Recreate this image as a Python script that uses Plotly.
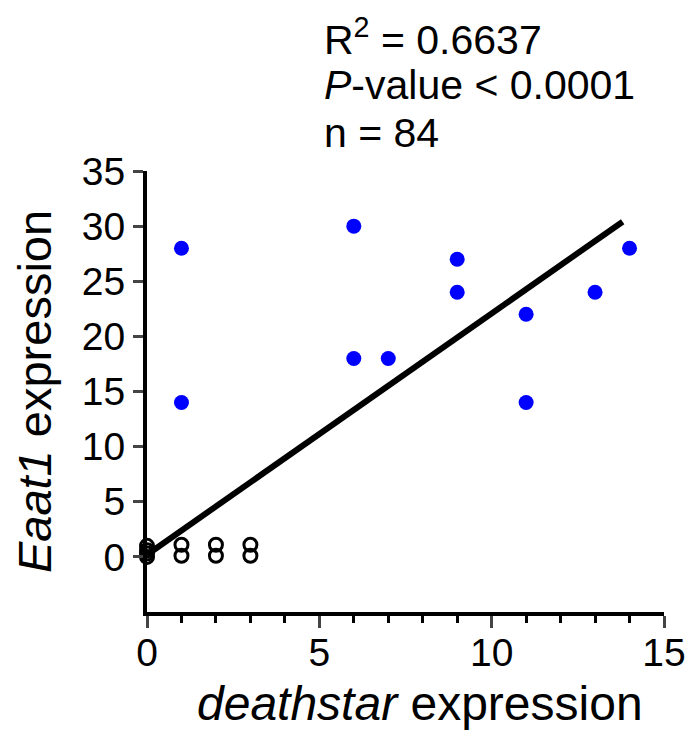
import plotly.graph_objects as go

# Data
pos_x = [1, 1, 6, 6, 7, 9, 9, 11, 11, 13, 14]
pos_y = [28, 14, 30, 18, 18, 27, 24, 22, 14, 24, 28]

zero_x = [0, 0, 0, 0, 1, 1, 2, 2, 3, 3]
zero_y = [0, 1, 0.3, 0.6, 0.1, 1.1, 0.1, 1.1, 0.1, 1.1]

fit_x = [0, 13.8]
fit_y = [0.2, 30.4]

x_ticks = [0, 5, 10, 15]
y_ticks = [0, 5, 10, 15, 20, 25, 30, 35]

stats_lines = ["R<sup>2</sup> = 0.6637", "<i>P</i>-value &lt; 0.0001", "n = 84"]
x_title = "<i>deathstar</i> expression"
y_title = "<i>Eaat1</i> expression"

FONT = "Liberation Sans, Arial, sans-serif"

L, R, T, B = 147, 28, 171, 125
W, H = 692, 737
PW, PH = W - L - R, H - T - B

fig = go.Figure()
fig.add_trace(go.Scatter(x=zero_x, y=zero_y, mode="markers", cliponaxis=False,
                         marker=dict(symbol="circle-open", size=13, color="black",
                                     line=dict(width=3, color="black")),
                         showlegend=False))
fig.add_trace(go.Scatter(x=fit_x, y=fit_y, mode="lines", cliponaxis=False,
                         line=dict(color="black", width=6), showlegend=False))
fig.add_trace(go.Scatter(x=pos_x, y=pos_y, mode="markers", cliponaxis=False,
                         marker=dict(symbol="circle", size=15, color="#0000ff"),
                         showlegend=False))

line_centers = [37, 85, 133]
for t, yc in zip(stats_lines, line_centers):
    fig.add_annotation(text=t, xref="paper", yref="paper", x=(322 - L) / PW,
                       y=(H - B - yc) / PH, xanchor="left", yanchor="middle",
                       showarrow=False, font=dict(family=FONT, size=41, color="black"))

# x-axis title
fig.add_annotation(text=x_title, xref="paper", yref="paper", x=(420 - L) / PW,
                   y=(H - B - 703) / PH, xanchor="center", yanchor="middle",
                   showarrow=False, font=dict(family=FONT, size=48, color="black"))

fig.update_layout(
    width=W, height=H,
    margin=dict(l=L, r=R, t=T, b=B),
    plot_bgcolor="white", paper_bgcolor="white",
    font=dict(family=FONT, size=39, color="black"),
    xaxis=dict(range=[0, 15], tickvals=x_ticks, ticks="outside", ticklen=12, tickwidth=3,
               showline=True, linewidth=4, linecolor="black", showgrid=False, zeroline=False,
               automargin=False, tickfont=dict(size=39), ticklabelstandoff=-9,
               minor=dict(dtick=1, ticks="outside", ticklen=7, tickwidth=3, tickcolor="black", showgrid=False)),
    yaxis=dict(range=[-5, 35], tickvals=y_ticks, ticks="outside", ticklen=10, tickwidth=3,
               showline=True, linewidth=4, linecolor="black", showgrid=False, zeroline=False,
               automargin=False, tickfont=dict(size=39),
               title=dict(text=y_title, font=dict(size=47), standoff=16)),
)

fig.write_html("out.html", config={"displayModeBar": False},
               post_script="document.body.style.margin='0';document.body.style.overflow='hidden';")
